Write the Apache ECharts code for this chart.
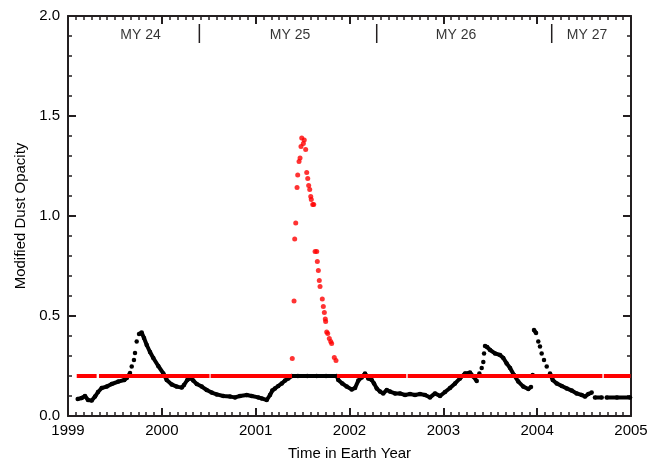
<!DOCTYPE html>
<html>
<head>
<meta charset="utf-8">
<script src="https://cdn.jsdelivr.net/npm/echarts@6/dist/echarts.min.js"></script>
<style>html,body{margin:0;padding:0;background:#fff}#c{width:649px;height:459px}</style>
</head>
<body>
<div id="c"></div>
<script>
// x tick labels (Earth years) and y tick range
const xTicks = [1999, 2000, 2001, 2002, 2003, 2004, 2005];
const yTicks = [0.0, 0.5, 1.0, 1.5, 2.0];

// Mars year labels and boundaries
const marsYearLabels = ['MY 24', 'MY 25', 'MY 26', 'MY 27'];
const marsYearLabelX = [1999.773, 2001.366, 2003.135, 2004.531];
const marsYearBoundaries = [2000.40, 2002.29, 2004.155];

// Black: modified dust opacity (null = gap between separate dots)
const blackData = [
  [1999.103,0.085],[1999.146,0.09],[1999.181,0.10],[1999.213,0.08],[1999.253,0.077],[1999.288,0.097],
  [1999.320,0.12],[1999.359,0.14],[1999.412,0.147],[1999.466,0.16],[1999.536,0.172],[1999.600,0.18],
  [1999.626,0.19],[1999.661,0.215],null,[1999.679,0.247],null,[1999.703,0.28],null,[1999.714,0.315],null,
  [1999.732,0.372],null,[1999.757,0.41],[1999.785,0.417],[1999.810,0.39],[1999.839,0.355],[1999.874,0.32],
  [1999.909,0.29],[1999.962,0.25],[2000.016,0.213],[2000.052,0.18],[2000.105,0.158],[2000.158,0.147],
  [2000.212,0.142],[2000.236,0.155],[2000.271,0.18],[2000.308,0.19],[2000.335,0.177],[2000.372,0.16],
  [2000.425,0.147],[2000.478,0.13],[2000.531,0.117],[2000.585,0.108],[2000.655,0.10],[2000.727,0.097],
  [2000.780,0.093],[2000.833,0.10],[2000.905,0.105],[2000.958,0.10],[2001.028,0.093],[2001.064,0.088],
  [2001.118,0.08],[2001.153,0.105],[2001.177,0.127],[2001.206,0.138],[2001.241,0.15],[2001.278,0.163],
  [2001.313,0.177],[2001.348,0.188],[2001.384,0.20],[2001.45,0.20],[2001.55,0.20],[2001.65,0.20],
  [2001.75,0.20],[2001.864,0.20],[2001.881,0.18],[2001.923,0.163],[2001.970,0.147],[2002.024,0.133],
  [2002.059,0.14],[2002.094,0.177],[2002.130,0.193],[2002.165,0.213],[2002.200,0.188],[2002.237,0.18],
  [2002.261,0.163],[2002.290,0.138],[2002.325,0.122],[2002.360,0.113],[2002.397,0.13],[2002.432,0.122],
  [2002.485,0.113],[2002.538,0.113],[2002.592,0.105],[2002.645,0.11],[2002.698,0.105],[2002.751,0.11],
  [2002.805,0.105],[2002.858,0.093],[2002.911,0.113],[2002.965,0.10],[2003.018,0.12],[2003.071,0.14],
  [2003.125,0.163],[2003.178,0.188],[2003.231,0.213],[2003.284,0.217],[2003.320,0.197],[2003.356,0.175],
  null,[2003.384,0.213],null,[2003.409,0.24],null,[2003.426,0.27],null,[2003.434,0.313],null,
  [2003.444,0.35],[2003.466,0.345],[2003.498,0.33],[2003.551,0.313],[2003.604,0.305],[2003.639,0.29],
  [2003.675,0.263],[2003.711,0.24],[2003.753,0.205],[2003.799,0.172],[2003.852,0.147],[2003.906,0.135],
  [2003.934,0.145],null,[2003.952,0.205],null,[2003.966,0.43],[2003.988,0.415],null,[2004.012,0.372],null,
  [2004.030,0.347],null,[2004.048,0.313],null,[2004.073,0.28],null,[2004.102,0.247],null,[2004.137,0.213],
  [2004.166,0.18],[2004.208,0.163],[2004.262,0.15],[2004.315,0.138],[2004.368,0.127],[2004.421,0.113],
  [2004.475,0.105],[2004.510,0.097],[2004.545,0.11],[2004.581,0.117],null,[2004.616,0.093],[2004.688,0.093],
  null,[2004.741,0.093],[2004.85,0.093],[2004.99,0.093]
];

// Red: reference level 0.2 (segments with gaps)
const redLevel = [
  [1999.093,0.2],[1999.305,0.2],null,[1999.330,0.2],[2000.508,0.2],null,[2000.520,0.2],[2001.387,0.2],null,
  [2001.866,0.2],[2002.605,0.2],null,[2002.620,0.2],[2004.695,0.2],null,[2004.710,0.2],[2004.995,0.2]
];

// Red: storm opacity values
const redStorm = [
  [2001.390,0.288],[2001.409,0.575],[2001.416,0.885],[2001.427,0.965],[2001.441,1.142],[2001.448,1.205],
  [2001.462,1.273],[2001.473,1.29],[2001.483,1.347],[2001.491,1.39],[2001.508,1.363],[2001.518,1.38],
  [2001.533,1.333],[2001.544,1.218],[2001.555,1.188],[2001.565,1.152],[2001.576,1.133],[2001.587,1.097],
  [2001.593,1.083],[2001.608,1.058],[2001.619,1.058],[2001.633,0.823],[2001.651,0.823],[2001.657,0.772],
  [2001.668,0.728],[2001.678,0.678],[2001.686,0.647],[2001.710,0.585],[2001.721,0.547],[2001.732,0.517],
  [2001.742,0.485],[2001.746,0.472],[2001.757,0.42],[2001.768,0.413],[2001.785,0.388],[2001.800,0.372],
  [2001.810,0.363],[2001.838,0.293],[2001.856,0.277]
];

const toGap = d => d.map(p => p === null ? [NaN, NaN] : p);
const font = '"Liberation Sans", Arial, sans-serif';
const axisColor = '#231f20';

const sepData = [];
marsYearBoundaries.forEach(x => { sepData.push([x, 1.865], [x, 1.96], [NaN, NaN]); });

const chart = echarts.init(document.getElementById('c'), null, {renderer: 'canvas'});
const baseX = {
  type: 'value', min: xTicks[0], max: xTicks[xTicks.length - 1], interval: 1,
  axisLine: {show: true, onZero: false, lineStyle: {color: axisColor, width: 2}},
  axisTick: {show: true, inside: true, length: 8, lineStyle: {color: axisColor, width: 2}},
  minorTick: {show: true, splitNumber: 12, length: 4, lineStyle: {color: axisColor, width: 1.5}},
  splitLine: {show: false}
};
const baseY = {
  type: 'value', min: yTicks[0], max: yTicks[yTicks.length - 1], interval: 0.5,
  axisLine: {show: true, onZero: false, lineStyle: {color: axisColor, width: 2}},
  axisTick: {show: true, inside: true, length: 8, lineStyle: {color: axisColor, width: 2}},
  minorTick: {show: true, splitNumber: 5, length: 4, lineStyle: {color: axisColor, width: 1.5}},
  splitLine: {show: false}
};
chart.setOption({
  animation: false,
  backgroundColor: '#fff',
  grid: {left: 68, right: 18, top: 16, bottom: 43, containLabel: false, outerBoundsMode: 'none'},
  xAxis: [
    Object.assign({}, baseX, {
      position: 'bottom',
      axisLabel: {color: '#000', fontFamily: font, fontSize: 15, margin: 7, formatter: v => String(v)},
      name: 'Time in Earth Year', nameLocation: 'middle', nameGap: 30,
      nameTextStyle: {color: '#000', fontFamily: font, fontSize: 15}
    }),
    Object.assign({}, baseX, {position: 'top', axisLabel: {show: false}})
  ],
  yAxis: [
    Object.assign({}, baseY, {
      position: 'left',
      axisLabel: {color: '#000', fontFamily: font, fontSize: 15, margin: 8, formatter: v => v.toFixed(1)},
      name: 'Modified Dust Opacity', nameLocation: 'middle', nameGap: 38,
      nameTextStyle: {color: '#000', fontFamily: font, fontSize: 15}
    }),
    Object.assign({}, baseY, {position: 'right', axisLabel: {show: false}})
  ],
  series: [
    {
      type: 'line', data: toGap(blackData), connectNulls: false,
      symbol: 'circle', symbolSize: 4.5, showSymbol: true, showAllSymbol: true,
      itemStyle: {color: '#000'}, lineStyle: {color: '#000', width: 4}, z: 2
    },
    {
      type: 'line', data: toGap(redLevel), symbol: 'none', connectNulls: false,
      lineStyle: {color: '#ff0000', width: 4, cap: 'butt'}, z: 3
    },
    {
      type: 'scatter', data: redStorm, symbol: 'circle', symbolSize: 5,
      itemStyle: {color: '#ff0000'}, z: 4
    },
    {
      type: 'line', data: sepData, symbol: 'none', connectNulls: false,
      lineStyle: {color: axisColor, width: 1.5}, z: 5
    },
    {
      type: 'scatter', data: marsYearLabelX.map((x, i) => [x, 1.905, marsYearLabels[i]]),
      symbolSize: 1, itemStyle: {color: 'rgba(0,0,0,0)'},
      label: {show: true, position: 'inside', color: '#000', fontFamily: font, fontSize: 14,
        formatter: p => p.data[2]}, z: 6
    }
  ]
});
</script>
</body>
</html>
